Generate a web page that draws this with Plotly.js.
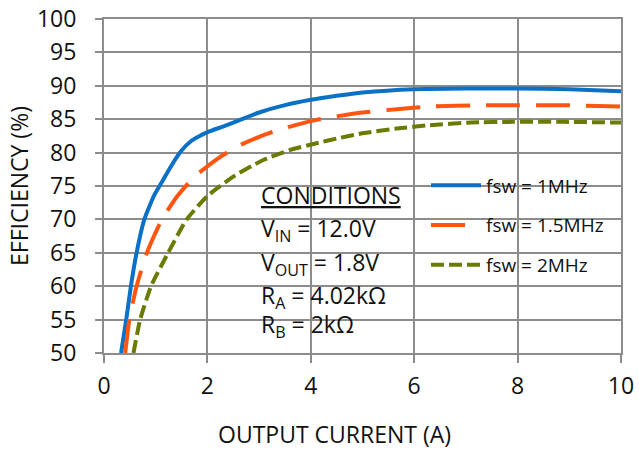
<!DOCTYPE html>
<html>
<head>
<meta charset="utf-8">
<script src="https://cdn.plot.ly/plotly-3.0.1.min.js"></script>
<style>
  html, body { margin: 0; padding: 0; background: #fff; }
  #chart { width: 639px; height: 450px; }
</style>
</head>
<body>
<div id="chart"></div>
<script>
// ---- data ----
const seriesNames = ['fsw = 1MHz', 'fsw = 1.5MHz', 'fsw = 2MHz'];

const current1MHz = [0.33, 0.43, 0.52, 0.63, 0.78, 0.97, 1.12, 1.3, 1.5, 1.68, 1.85, 2.05, 2.3, 2.6, 3.0, 3.5, 4.0, 4.5, 5.0, 6.0, 7.0, 8.0, 9.0, 10.0];
const eff1MHz     = [50, 55, 60, 65, 70, 73.6, 75.6, 78.0, 80.3, 81.7, 82.5, 83.2, 83.9, 84.8, 86.0, 87.1, 87.9, 88.5, 89.0, 89.5, 89.6, 89.6, 89.5, 89.2];

const current15MHz = [0.41, 0.49, 0.63, 0.83, 1.12, 1.42, 1.75, 2.18, 2.57, 3.15, 3.6, 4.11, 4.56, 5.0, 5.66, 6.3, 7.3, 8.0, 8.9, 10.0];
const eff15MHz     = [50, 55, 60, 65, 70, 73.5, 76.4, 79.0, 80.9, 82.8, 83.9, 84.9, 85.5, 86.0, 86.5, 86.9, 87.1, 87.1, 87.1, 86.9];

const current2MHz = [0.57, 0.7, 0.91, 1.24, 1.6, 2.0, 2.5, 3.08, 3.6, 4.11, 4.56, 5.0, 5.66, 6.3, 7.1, 7.9, 8.9, 10.0];
const eff2MHz     = [50, 55, 60, 65, 70, 73.5, 76.4, 78.9, 80.4, 81.4, 82.2, 82.9, 83.6, 84.1, 84.5, 84.6, 84.6, 84.5];

const xTicks = [0, 2, 4, 6, 8, 10];
const yTicks = [50, 55, 60, 65, 70, 75, 80, 85, 90, 95, 100];

const xTitle = 'OUTPUT CURRENT (A)';
const yTitle = 'EFFICIENCY (%)';
const conditionLines = [
  '<u>CONDITIONS</u>',
  'V<sub>IN</sub> = 12.0V',
  'V<sub>OUT</sub> = 1.8V',
  'R<sub>A</sub> = 4.02kΩ',
  'R<sub>B</sub> = 2kΩ'
];

// ---- layout helpers (pixel -> paper) ----
const W = 639, H = 450;
const M = { l: 104, r: 18, t: 19, b: 97 };
const plotW = W - M.l - M.r, plotH = H - M.t - M.b;
const px2x = px => (px - M.l) / plotW;
const py2y = py => (H - M.b - py) / plotH;

const FONT = '"Open Sans", "Noto Sans", sans-serif';
const GRID = '#8c8c8c';

const traces = [
  { x: current1MHz, y: eff1MHz, name: seriesNames[0], legendgroup: 'a',
    line: { color: '#0a71c6', width: 4, shape: 'spline', smoothing: 0.5 } },
  { x: current15MHz, y: eff15MHz, name: seriesNames[1], legendgroup: 'b',
    line: { color: '#ff5510', width: 4, dash: '34px,16px', shape: 'spline', smoothing: 0.5 } },
  { x: current2MHz, y: eff2MHz, name: seriesNames[2], legendgroup: 'c',
    line: { color: '#6b7a00', width: 4, dash: '13px,5px', shape: 'spline', smoothing: 0.5 } }
].map(t => Object.assign({ type: 'scatter', mode: 'lines', hoverinfo: 'skip' }, t));

const annotations = conditionLines.map((txt, i) => ({
  xref: 'paper', yref: 'paper',
  x: px2x(259), y: py2y([177, 210, 243.5, 277, 306][i]),
  xanchor: 'left', yanchor: 'top',
  text: txt, showarrow: false,
  font: { family: FONT, size: 23, color: '#111' }
}));
annotations.push({
  xref: 'paper', yref: 'paper',
  x: px2x(334), y: py2y(452),
  xanchor: 'center', yanchor: 'bottom',
  text: xTitle, showarrow: false,
  font: { family: FONT, size: 23, color: '#111' }
});

const shapes = [
  // white box behind the conditions text
  { type: 'rect', xref: 'paper', yref: 'paper', layer: 'between',
    x0: px2x(248), x1: px2x(421), y0: py2y(345), y1: py2y(168),
    fillcolor: '#ffffff', line: { width: 0 } },
  // white box behind the legend
  { type: 'rect', xref: 'paper', yref: 'paper', layer: 'between',
    x0: px2x(420), x1: px2x(615), y0: py2y(317), y1: py2y(166),
    fillcolor: '#ffffff', line: { width: 0 } }
];

const layout = {
  width: W, height: H,
  margin: M,
  paper_bgcolor: '#ffffff', plot_bgcolor: '#ffffff',
  font: { family: FONT, size: 23, color: '#111' },
  showlegend: true,
  legend: {
    x: px2x(426), y: py2y(166.5), xanchor: 'left', yanchor: 'top',
    bgcolor: 'rgba(255,255,255,0)', borderwidth: 0,
    font: { family: FONT, size: 19, color: '#111' },
    tracegroupgap: 12, itemwidth: 50
  },
  xaxis: {
    range: [0, 10], tickvals: xTicks, ticktext: xTicks.map(String),
    showgrid: true, gridcolor: GRID, gridwidth: 2,
    zeroline: false, showline: true, linecolor: GRID, linewidth: 2, mirror: true,
    ticks: 'outside', ticklen: 8, tickwidth: 2, tickcolor: GRID,
    ticklabelstandoff: 3,
    tickfont: { family: FONT, size: 23, color: '#111' },
    fixedrange: true
  },
  yaxis: {
    range: [50, 100], tickvals: yTicks, ticktext: yTicks.map(String),
    showgrid: true, gridcolor: GRID, gridwidth: 2,
    zeroline: false, showline: true, linecolor: GRID, linewidth: 2, mirror: true,
    ticks: 'outside', ticklen: 7, tickwidth: 2, tickcolor: GRID,
    ticklabelstandoff: 14,
    tickfont: { family: FONT, size: 23, color: '#111' },
    title: { text: yTitle, font: { family: FONT, size: 23, color: '#111' }, standoff: 2 },
    fixedrange: true
  },
  shapes: shapes,
  annotations: annotations
};

Plotly.newPlot('chart', traces, layout, { staticPlot: true, displayModeBar: false });
</script>
</body>
</html>
